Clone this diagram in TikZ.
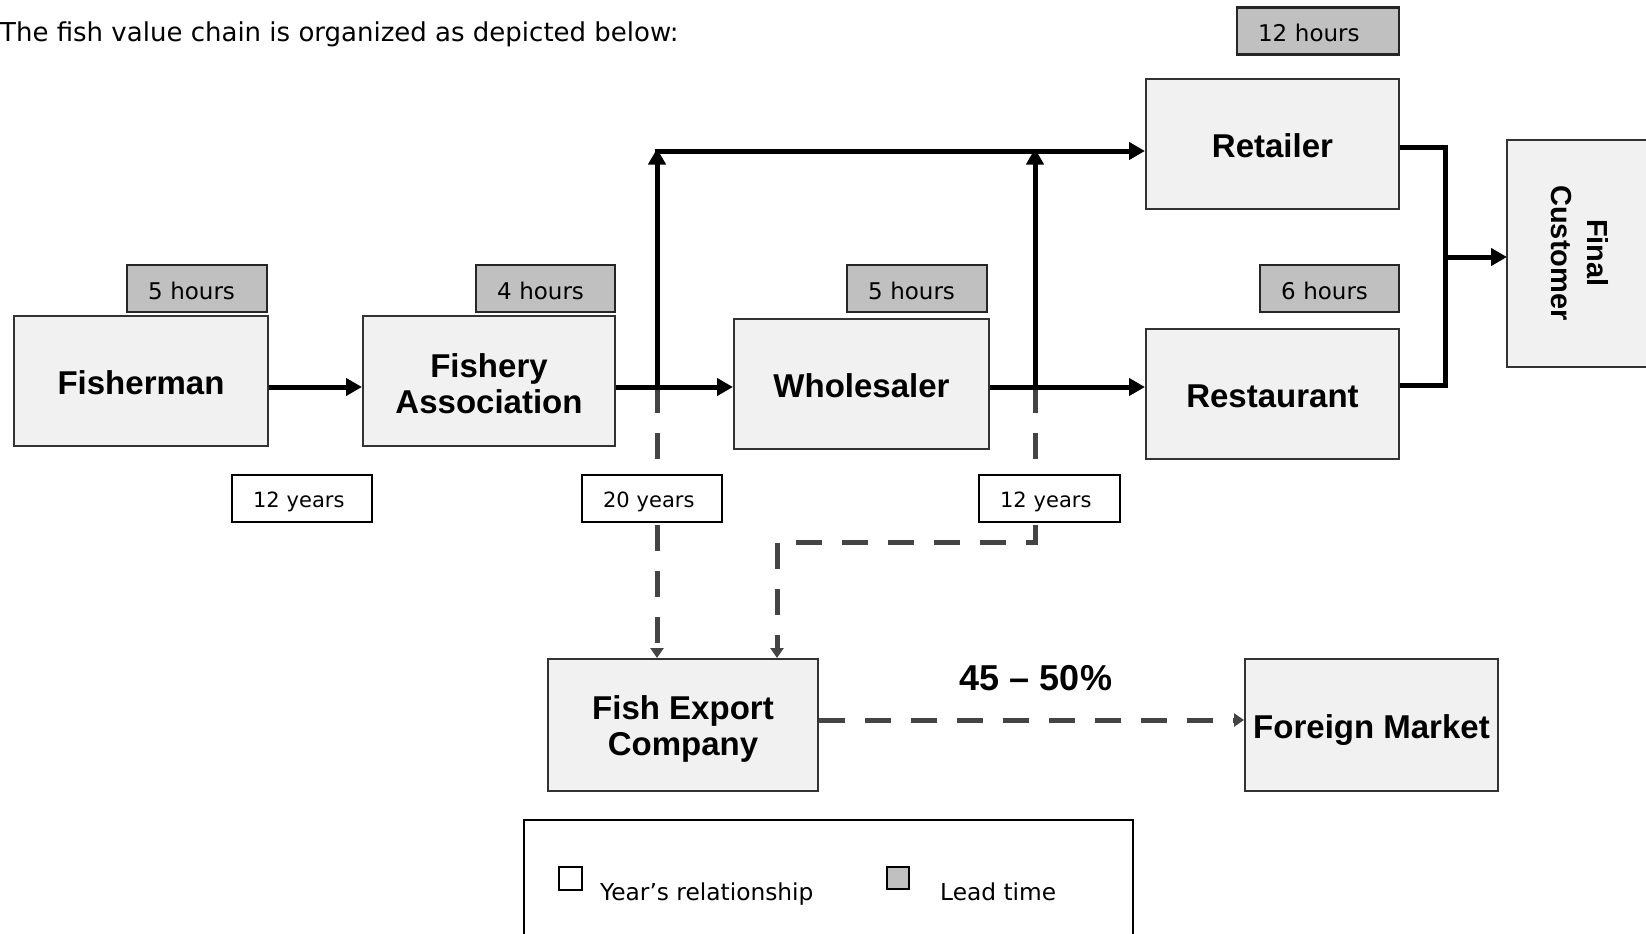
\documentclass[tikz,border=0pt]{standalone}
\usepackage{fontspec}
\setmainfont{DejaVu Sans}
\newfontfamily\arialfam{Liberation Sans}
\usetikzlibrary{arrows.meta,backgrounds}
\definecolor{boxfill}{HTML}{F1F1F1}
\definecolor{hourfill}{HTML}{C0C0C0}
\definecolor{boxline}{HTML}{333333}
\definecolor{dashcol}{HTML}{444444}
\begin{document}
\begin{tikzpicture}[x=1pt,y=-1pt,
  procbox/.style={draw=boxline, line width=2pt, fill=boxfill, inner sep=0pt, align=center,
    font=\arialfam\bfseries\fontsize{33}{36}\selectfont},
  oneline/.style={text height=26pt, text depth=0pt},
  hourbox/.style={draw=black!85, line width=2.5pt, fill=hourfill, inner ysep=0pt, inner xsep=21pt,
    minimum height=47pt, align=left, text height=22pt, text depth=0pt, font=\fontsize{23}{26}\selectfont},
  yearbox/.style={draw=black, line width=2.5pt, fill=white, inner ysep=0pt, inner xsep=21pt,
    minimum height=47pt, align=left, text height=20pt, text depth=3pt, font=\fontsize{21}{24}\selectfont},
  mainline/.style={line width=5pt, line join=miter},
  mainarrow/.style={mainline, -{Triangle[length=16pt,width=17pt]}},
  dashline/.style={draw=dashcol, line width=5pt, dash pattern=on 26pt off 20pt,
    -{Triangle[length=10pt,width=13pt]}},
  lbl/.style={anchor=base west, inner sep=0pt, font=\fontsize{23.3}{26}\selectfont},
]
\useasboundingbox (0,0) rectangle (1646,934);

% title
\node[anchor=base west, inner sep=0pt, font=\fontsize{26}{30}\selectfont] (title) at (0,42)
  {The fish value chain is organized as depicted below:};

% process boxes
\node[procbox, oneline, minimum width=254pt, minimum height=130pt] (fisher) at (141,381) {Fisherman};
\node[procbox, text height=64pt, text depth=0pt, minimum width=252pt, minimum height=130pt] (fa) at (489,381) {Fishery\\Association};
\node[procbox, oneline, minimum width=255pt, minimum height=130pt] (whole) at (861.5,384) {Wholesaler};
\node[procbox, oneline, minimum width=253pt, minimum height=130pt] (retail) at (1272.5,144) {Retailer};
\node[procbox, oneline, minimum width=253pt, minimum height=130pt] (rest) at (1272.5,394) {Restaurant};
\node[procbox, text height=61pt, text depth=0pt, minimum width=270pt, minimum height=132pt] (fec) at (683,725) {Fish Export\\Company};
\node[procbox, oneline, minimum width=253pt, minimum height=132pt] (fm) at (1371.5,725) {Foreign Market};

% final customer (cut by right edge)
\fill[boxfill] (1507,140) rectangle (1646,367);
\draw[boxline, line width=2pt] (1646,140) -- (1507,140) -- (1507,367) -- (1646,367);
\coordinate (final) at (1507,257);
\node[rotate=-90, align=center, inner sep=0pt, font=\arialfam\bfseries\fontsize{29}{36}\selectfont]
  (finaltxt) at (1580,253) {Final\\Customer};

% lead time tags
\node[hourbox, text width=98pt] (h1) at (197,288.5) {5 hours};
\node[hourbox, text width=97pt] (h2) at (545.5,288.5) {4 hours};
\node[hourbox, text width=98pt] (h3) at (917,288.5) {5 hours};
\node[hourbox, text width=120pt] (h4) at (1318,31) {12 hours};
\node[hourbox, text width=97pt] (h5) at (1329.5,288.5) {6 hours};

% year tags
\node[yearbox, text width=98pt] (y1) at (302,498.5) {12 years};
\node[yearbox, text width=98pt] (y2) at (652,498.5) {20 years};
\node[yearbox, text width=99pt] (y3) at (1049.5,498.5) {12 years};

% junctions
\coordinate (j1) at (657,387);
\coordinate (j2) at (1035,387);
\coordinate (t1) at (657,151);
\coordinate (t2) at (1035,151);
\coordinate (k) at (1445,257);
\coordinate (c2) at (777,542);

\begin{scope}[on background layer]
  \fill[white] (0,0) rectangle (1646,934);
  \draw[dashline] (j1) -- (fec.north -| j1);
  \draw[dashline] (j2) |- (c2) -- (c2 |- fec.north);
  \draw[dashline] ([yshift=5pt]fec.east) -- ([yshift=5pt]fm.west);
\end{scope}

% main flow
\draw[mainarrow] ([yshift=-6pt]fisher.east) -- ([yshift=-6pt]fa.west);
\draw[mainarrow] ([yshift=-6pt]fa.east) -- ([yshift=-3pt]whole.west);
\draw[mainarrow] ([yshift=-3pt]whole.east) -- ([yshift=7pt]rest.west);
\draw[mainarrow] (j1) -- ([yshift=2.5pt]t1);
\draw[mainarrow] ([xshift=-2.5pt]t1) -- (retail.west |- t1);
\draw[mainarrow] (j2) -- ([yshift=2.5pt]t2);
\draw[mainline] ([yshift=-3pt]retail.east) -| (k) |- ([yshift=9pt]rest.east);
\draw[mainarrow] (k) -- (final);

% share label
\node[font=\arialfam\bfseries\fontsize{36}{40}\selectfont] (pct) at (1036,678) {45 – 50\%};

% legend
\draw[line width=2.5pt] (524,934) -- (524,820) -- (1133,820) -- (1133,934);
\node[draw, line width=2pt, fill=white, minimum width=23pt, minimum height=23pt, inner sep=0pt] (lg1) at (570.5,878) {};
\node[draw, line width=2pt, fill=hourfill, minimum width=22pt, minimum height=22pt, inner sep=0pt] (lg2) at (898,878) {};
\node[lbl] (lt1) at (600,900) {Year’s relationship};
\node[lbl] (lt2) at (940,900) {Lead time};
\end{tikzpicture}
\end{document}
